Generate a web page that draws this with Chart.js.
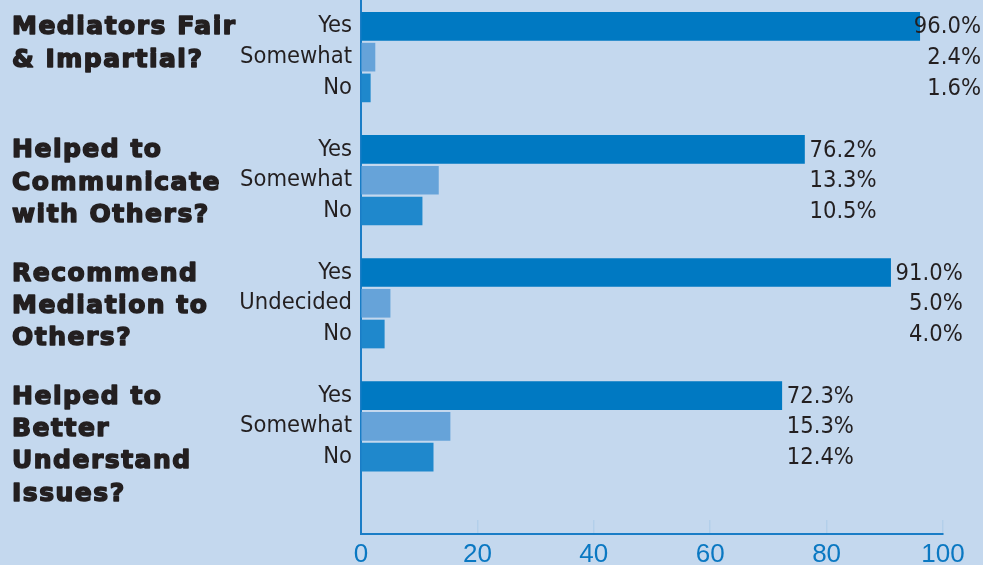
<!DOCTYPE html>
<html>
<head>
<meta charset="utf-8">
<script src="https://cdn.jsdelivr.net/npm/chart.js@4.4.0/dist/chart.umd.min.js"></script>
<style>
  html, body { margin: 0; padding: 0; background: #c4d8ee; overflow: hidden; }
  #wrap { width: 983px; height: 600px; position: relative; }
</style>
</head>
<body>
<div id="wrap"><canvas id="chart"></canvas></div>
<script>
const questions = [
  ['Mediators Fair', '& Impartial?'],
  ['Helped to', 'Communicate', 'with Others?'],
  ['Recommend', 'Mediation to', 'Others?'],
  ['Helped to', 'Better', 'Understand', 'Issues?']
];
const answers = [
  ['Yes', 'Somewhat', 'No'],
  ['Yes', 'Somewhat', 'No'],
  ['Yes', 'Undecided', 'No'],
  ['Yes', 'Somewhat', 'No']
];
const percents = [
  [96.0, 2.4, 1.6],
  [76.2, 13.3, 10.5],
  [91.0, 5.0, 4.0],
  [72.3, 15.3, 12.4]
];
const xTicks = [0, 20, 40, 60, 80, 100];

const colors = {
  yes: '#0079c2',
  middle: '#66a3d9',
  no: '#1f88cc',
  axis: '#1a7dc6',
  tick: '#b3cfea',
  tickText: '#0a78c2',
  text: '#231f20'
};
const narrow = '"Liberation Sans Narrow", "DejaVu Sans Condensed", "Arial Narrow", sans-serif';

// one row per answer, then an empty row between questions (and one at the bottom)
const labels = [];
const values = [];
const barColors = [];
answers.forEach((group, g) => {
  group.forEach((a, i) => {
    labels.push(a);
    values.push(percents[g][i]);
    barColors.push([colors.yes, colors.middle, colors.no][i]);
  });
  labels.push('');
  values.push(null);
  barColors.push('transparent');
});
labels.push('');
values.push(null);
barColors.push('transparent');

const annotate = {
  id: 'annotate',
  afterDatasetsDraw(chart) {
    const { ctx, chartArea, scales: { x, y } } = chart;
    ctx.save();

    // y axis line continues up to the top edge
    ctx.strokeStyle = colors.axis;
    ctx.lineWidth = 2;
    ctx.beginPath();
    ctx.moveTo(chartArea.left, 0);
    ctx.lineTo(chartArea.left, chartArea.top);
    ctx.stroke();

    percents.forEach((vals, g) => {
      const first = g * 4;
      const yesY = y.getPixelForValue(first);

      // question titles on the left
      ctx.font = 'bold 25px "DejaVu Sans"';
      ctx.letterSpacing = '1.5px';
      ctx.fillStyle = colors.text;
      ctx.strokeStyle = colors.text;
      ctx.lineWidth = 1.5;
      ctx.lineJoin = 'round';
      ctx.textAlign = 'left';
      ctx.textBaseline = 'alphabetic';
      questions[g].forEach((line, i) => {
        const ly = yesY + 8 + i * 32.4;
        ctx.strokeText(line, 12, ly);
        ctx.fillText(line, 12, ly);
      });
      ctx.letterSpacing = '0px';

      // percentages, right aligned to the end of the "Yes" label
      ctx.font = '23.5px ' + narrow;
      const yesText = vals[0].toFixed(1) + '%';
      let right = x.getPixelForValue(vals[0]) + 5 + ctx.measureText(yesText).width;
      right = Math.min(right, chart.width - 2);
      ctx.textAlign = 'right';
      ctx.textBaseline = 'middle';
      vals.forEach((v, i) => {
        ctx.fillText(v.toFixed(1) + '%', right, y.getPixelForValue(first + i) + 1);
      });
    });
    ctx.restore();
  }
};

new Chart(document.getElementById('chart'), {
  type: 'bar',
  data: {
    labels: labels,
    datasets: [{
      data: values,
      backgroundColor: barColors,
      borderWidth: 0,
      barThickness: 28
    }]
  },
  options: {
    indexAxis: 'y',
    responsive: true,
    maintainAspectRatio: false,
    animation: false,
    layout: { autoPadding: false, padding: { top: 11, right: 40, left: 0, bottom: 0 } },
    plugins: { legend: { display: false }, tooltip: { enabled: false } },
    scales: {
      x: {
        min: 0,
        max: 100,
        afterBuildTicks: scale => { scale.ticks = xTicks.map(v => ({ value: v })); },
        afterFit: scale => { scale.height = 66; scale.paddingLeft = 0; scale.paddingRight = 0; },
        grid: { drawOnChartArea: false, tickLength: -14, color: colors.tick, lineWidth: 1.5 },
        border: { color: colors.axis, width: 2 },
        ticks: { color: colors.tickText, padding: 19, font: { family: '"Liberation Sans", Arial, sans-serif', size: 26 } }
      },
      y: {
        afterFit: scale => { scale.width = 361; scale.paddingTop = 0; scale.paddingBottom = 0; },
        grid: { display: false, drawTicks: false },
        border: { color: colors.axis, width: 2 },
        ticks: { color: colors.text, padding: 9, autoSkip: false, font: { family: narrow, size: 23.5 } }
      }
    }
  },
  plugins: [annotate]
});
</script>
</body>
</html>
